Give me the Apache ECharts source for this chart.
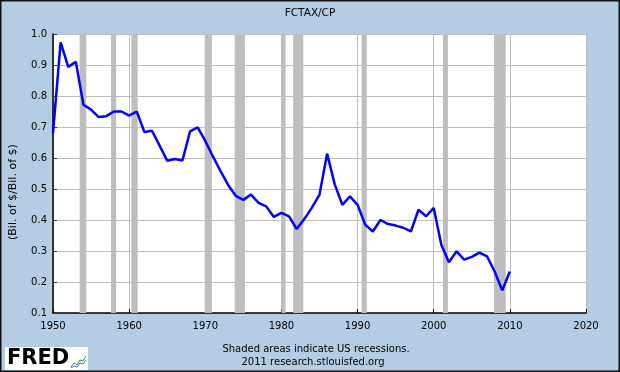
<!DOCTYPE html>
<html>
<head>
<meta charset="utf-8">
<script src="https://cdn.jsdelivr.net/npm/echarts@6/dist/echarts.min.js"></script>
<style>
html,body{margin:0;padding:0;background:#B4CDE5;}
#c{width:620px;height:372px;}
</style>
</head>
<body>
<div id="c"></div>
<script>
var years = [1950,1951,1952,1953,1954,1955,1956,1957,1958,1959,
             1960,1961,1962,1963,1964,1965,1966,1967,1968,1969,
             1970,1971,1972,1973,1974,1975,1976,1977,1978,1979,
             1980,1981,1982,1983,1984,1985,1986,1987,1988,1989,
             1990,1991,1992,1993,1994,1995,1996,1997,1998,1999,
             2000,2001,2002,2003,2004,2005,2006,2007,2008,2009,2010];
var ratio = [0.680,0.973,0.894,0.910,0.772,0.756,0.732,0.735,0.750,0.750,
             0.737,0.750,0.684,0.688,0.640,0.591,0.597,0.592,0.686,0.699,
             0.655,0.605,0.558,0.513,0.478,0.465,0.482,0.455,0.444,0.410,
             0.423,0.412,0.371,0.403,0.440,0.482,0.614,0.515,0.449,0.476,
             0.449,0.385,0.363,0.400,0.387,0.382,0.375,0.363,0.433,0.412,
             0.439,0.320,0.264,0.299,0.272,0.281,0.295,0.283,0.234,0.173,0.234];
var recessions = [[1953.50,1954.37],[1957.62,1958.29],[1960.29,1961.12],
                  [1969.92,1970.87],[1973.87,1975.21],[1980.00,1980.54],
                  [1981.54,1982.87],[1990.54,1991.21],[2001.21,2001.87],
                  [2007.92,2009.46]];
var xTicks = [1950,1960,1970,1980,1990,2000,2010,2020];
var yTicks = [0.1,0.2,0.3,0.4,0.5,0.6,0.7,0.8,0.9,1.0];

var chart = echarts.init(document.getElementById('c'), null, {renderer:'canvas'});
var font = 'DejaVu Sans';
var lineData = years.map(function(y,i){return [y, ratio[i]];});
chart.setOption({
  backgroundColor:'#B4CDE5',
  animation:false,
  grid:{left:53,top:34,width:533,height:279,show:true,backgroundColor:'#ffffff',borderWidth:0},
  xAxis:{type:'value',min:xTicks[0],max:xTicks[xTicks.length-1],interval:10,
    axisLine:{show:true,onZero:false,lineStyle:{color:'#000',width:1.5}},
    axisTick:{show:true,inside:true,length:4,lineStyle:{color:'#000'}},
    splitLine:{show:true,lineStyle:{color:'#BDBDBD',width:1}},
    axisLabel:{color:'#000',fontFamily:font,fontSize:10,margin:8,formatter:function(v){return String(v);}}},
  yAxis:{type:'value',min:yTicks[0],max:yTicks[yTicks.length-1],interval:0.1,
    axisLine:{show:true,onZero:false,lineStyle:{color:'#000',width:1.5}},
    axisTick:{show:true,inside:true,length:4,lineStyle:{color:'#334'}},
    splitLine:{show:true,lineStyle:{color:'#BDBDBD',width:1}},
    axisLabel:{color:'#000',fontFamily:font,fontSize:10,margin:6,formatter:function(v){return v.toFixed(1);}}},
  series:[
    {type:'line',data:[],silent:true,
     markArea:{silent:true,itemStyle:{color:'#BEBEBE',opacity:1},
       data:recessions.map(function(r){return [{xAxis:r[0]},{xAxis:r[1]}];})}},
    {type:'line',data:lineData,showSymbol:false,symbol:'none',
     lineStyle:{color:'#0000FF',width:2.5},z:5}
  ],
  graphic:[
    {type:'text',left:'center',top:8,style:{text:'FCTAX/CP',font:'10.5px "DejaVu Sans"',fill:'#000'}},
    {type:'text',x:8,y:240,rotation:Math.PI/2,style:{text:'(Bil. of $/Bil. of $)',font:'11px "DejaVu Sans"',fill:'#000',textAlign:'left',textVerticalAlign:'top'}},
    {type:'text',x:316,y:344,style:{text:'Shaded areas indicate US recessions.',font:'10px "DejaVu Sans"',fill:'#000',textAlign:'center'}},
    {type:'text',x:313,y:357,style:{text:'2011 research.stlouisfed.org',font:'10px "DejaVu Sans"',fill:'#000',textAlign:'center'}},
    {type:'rect',shape:{x:5,y:347,width:83,height:23},style:{fill:'#ffffff'}},
    {type:'text',x:7,y:348,style:{text:'FRED',font:'bold 21px "DejaVu Sans"',fill:'#000'}},
    {type:'polyline',shape:{points:[[71,367],[74,363],[77,365],[80,360],[83,361],[86,356]]},style:{stroke:'#3a9a3a',lineWidth:1,fill:null}},
    {type:'polyline',shape:{points:[[71,368],[74,366],[77,367],[80,363],[83,364],[86,360]]},style:{stroke:'#4a6ad0',lineWidth:1,fill:null}},
    {type:'rect',shape:{x:0.75,y:0.75,width:618.5,height:370.5},style:{fill:null,stroke:'#111',lineWidth:1.5}}
  ]
});
</script>
</body>
</html>
